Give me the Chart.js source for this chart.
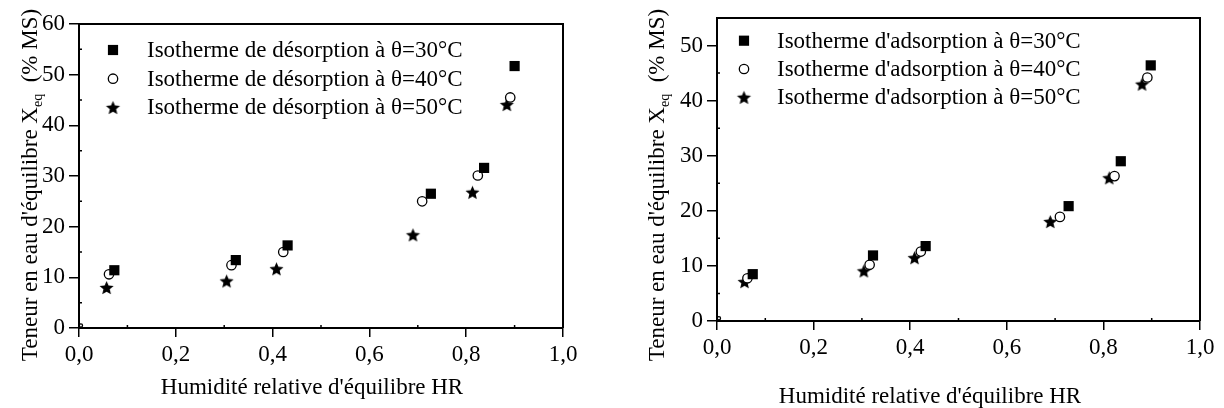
<!DOCTYPE html>
<html>
<head>
<meta charset="utf-8">
<script src="https://cdn.jsdelivr.net/npm/chart.js@4.4.1/dist/chart.umd.min.js"></script>
<style>
body{margin:0;background:#fff;width:1224px;height:408px;overflow:hidden;position:relative}
canvas{position:absolute;top:0}
#left{left:0}
#right{left:612px}
</style>
</head>
<body>
<canvas id="left" width="612" height="408"></canvas>
<canvas id="right" width="612" height="408"></canvas>
<script>
// desorption (left)
const hrDes30 = [0.073, 0.324, 0.431, 0.727, 0.837, 0.900]
const xDes30  = [11.4, 13.4, 16.3, 26.5, 31.6, 51.7]
const hrDes40 = [0.004, 0.062, 0.315, 0.422, 0.709, 0.824, 0.891]
const xDes40  = [0.5, 10.6, 12.4, 15.0, 25.0, 30.1, 45.5]
const hrDes50 = [0.057, 0.305, 0.408, 0.690, 0.813, 0.884]
const xDes50  = [8.0, 9.3, 11.7, 18.4, 26.8, 44.1]

// adsorption (right)
const hrAds30 = [0.074, 0.323, 0.432, 0.728, 0.836, 0.898]
const xAds30  = [8.5, 11.9, 13.6, 20.85, 29.0, 46.4]
const hrAds40 = [0.004, 0.063, 0.316, 0.422, 0.710, 0.823, 0.891]
const xAds40  = [0.5, 7.75, 10.2, 12.6, 18.9, 26.3, 44.2]
const hrAds50 = [0.057, 0.304, 0.409, 0.690, 0.812, 0.880]
const xAds50  = [7.15, 9.1, 11.5, 18.05, 26.0, 43.0]

const temps = ["30", "40", "50"]
const xTitle = "Humidité relative d'équilibre HR"
const FONT = '"Liberation Serif", "Times New Roman", serif'

Chart.defaults.font.family = FONT
Chart.defaults.color = "#000"

const pts = (xs, ys) => xs.map((x, i) => ({x: x, y: ys[i]}))

// filled five point star as a point image
const makeStar = (R) => {
    let c = document.createElement("canvas"), s = Math.ceil(2 * R + 2)
    c.width = s; c.height = s
    let g = c.getContext("2d")
    g.fillStyle = "#000"
    g.beginPath()
    for (let i = 0; i < 10; i++) {
        let r = i % 2 ? R * 0.45 : R,
            a = -Math.PI / 2 + i * Math.PI / 5
        g.lineTo(s / 2 + r * Math.cos(a), s / 2 + 0.8 + r * Math.sin(a))
    }
    g.closePath()
    g.fill()
    return c
}
const star = makeStar(7.4)
const CIRC_R = 4.7

const makeSets = (kind, h30, x30, h40, x40, h50, x50) => [
    {
        label: "Isotherme " + kind + " à θ=" + temps[0] + "°C",
        data: pts(h30, x30),
        pointStyle: "rect", pointRadius: 7.2,
        backgroundColor: "#000", borderColor: "#000", borderWidth: 0
    },
    {
        label: "Isotherme " + kind + " à θ=" + temps[1] + "°C",
        data: pts(h40, x40),
        pointStyle: "circle",
        pointRadius: (c) => c.dataIndex === 0 ? 1.6 : CIRC_R,
        backgroundColor: "#fff", borderColor: "#000", borderWidth: 1.3
    },
    {
        label: "Isotherme " + kind + " à θ=" + temps[2] + "°C",
        data: pts(h50, x50),
        pointStyle: star, pointRadius: 7,
        backgroundColor: "#000", borderColor: "#000", borderWidth: 0
    }
]

// frame, minor ticks, titles and legend inside the plot
const decor = {
    id: "decor",
    afterDraw(chart, args, o) {
        const ctx = chart.ctx, a = chart.chartArea
        const sx = chart.scales.x, sy = chart.scales.y
        ctx.save()
        ctx.strokeStyle = "#000"
        ctx.lineWidth = 2
        ctx.beginPath()
        ctx.moveTo(a.left, a.top); ctx.lineTo(a.right, a.top); ctx.lineTo(a.right, a.bottom)
        ctx.stroke()
        ctx.lineWidth = 1.5
        ctx.beginPath()
        for (let v = 0.1; v < 1; v += 0.2) {
            let px = sx.getPixelForValue(v)
            ctx.moveTo(px, a.bottom); ctx.lineTo(px, a.bottom - 3)
        }
        for (let v = 5; v < sy.max; v += 10) {
            let py = sy.getPixelForValue(v)
            ctx.moveTo(a.left, py); ctx.lineTo(a.left + 3, py)
        }
        ctx.stroke()

        // x title
        ctx.fillStyle = "#000"
        ctx.font = "23px " + FONT
        ctx.textAlign = "center"
        ctx.textBaseline = "middle"
        ctx.fillText(xTitle, o.xTitleX, o.xTitleY)

        // y title with subscript
        ctx.save()
        ctx.translate(o.yTitleX, o.yTitleY)
        ctx.rotate(-Math.PI / 2)
        ctx.textAlign = "left"
        ctx.textBaseline = "alphabetic"
        const t1 = "Teneur en eau d'équilibre X", t2 = "eq", t3 = "  (% MS)"
        ctx.font = "23px " + FONT
        let w1 = ctx.measureText(t1).width, w3 = ctx.measureText(t3).width
        ctx.font = "14px " + FONT
        let w2 = ctx.measureText(t2).width
        let x0 = -(w1 + w2 + w3) / 2
        ctx.font = "23px " + FONT
        ctx.fillText(t1, x0, 0)
        ctx.fillText(t3, x0 + w1 + w2, 0)
        ctx.font = "14px " + FONT
        ctx.fillText(t2, x0 + w1, 5)
        ctx.restore()

        // legend
        ctx.font = "23px " + FONT
        ctx.textAlign = "left"
        ctx.textBaseline = "middle"
        chart.data.datasets.forEach((d, i) => {
            let y = o.legY + i * o.legGap
            ctx.fillStyle = d.backgroundColor
            ctx.strokeStyle = d.borderColor
            ctx.lineWidth = d.borderWidth
            Chart.helpers.drawPoint(ctx, {
                pointStyle: d.pointStyle,
                radius: i === 1 ? CIRC_R : d.pointRadius,
                rotation: 0,
                borderWidth: d.borderWidth
            }, o.legX, y)
            ctx.fillStyle = "#000"
            ctx.fillText(d.label, o.legTextX, y + 1)
        })
        ctx.restore()
    }
}

const makeChart = (id, datasets, yMax, box, o) => new Chart(document.getElementById(id), {
    type: "scatter",
    data: {datasets: datasets},
    plugins: [decor],
    options: {
        responsive: false,
        animation: false,
        events: [],
        layout: {padding: {left: 0, top: box.top, right: box.right, bottom: 0}},
        plugins: {legend: {display: false}, tooltip: {enabled: false}, decor: o},
        scales: {
            x: {
                type: "linear", min: 0, max: 1,
                afterFit: (s) => { s.height = box.xh },
                ticks: {
                    stepSize: 0.2, padding: 4, maxRotation: 0,
                    font: {size: 23},
                    callback: (v) => v.toFixed(1).replace(".", ",")
                },
                grid: {drawOnChartArea: false, tickLength: 9, color: "#000", lineWidth: 1.5},
                border: {color: "#000", width: 2}
            },
            y: {
                type: "linear", min: 0, max: yMax,
                afterFit: (s) => { s.width = box.yw },
                ticks: {stepSize: 10, padding: 4, includeBounds: false, font: {size: 23}},
                grid: {drawOnChartArea: false, tickLength: 10, color: "#000", lineWidth: 1.5},
                border: {color: "#000", width: 2}
            }
        }
    }
})

makeChart("left",
    makeSets("de désorption", hrDes30, xDes30, hrDes40, xDes40, hrDes50, xDes50),
    60,
    {top: 24, right: 49, xh: 80, yw: 79},
    {xTitleX: 312, xTitleY: 388, yTitleX: 37, yTitleY: 185,
     legX: 113, legY: 50, legGap: 28.7, legTextX: 147})

makeChart("right",
    makeSets("d'adsorption", hrAds30, xAds30, hrAds40, xAds40, hrAds50, xAds50),
    55,
    {top: 18, right: 24, xh: 87, yw: 105},
    {xTitleX: 318, xTitleY: 397, yTitleX: 52, yTitleY: 185,
     legX: 132, legY: 40.7, legGap: 28.3, legTextX: 165})
</script>
</body>
</html>
